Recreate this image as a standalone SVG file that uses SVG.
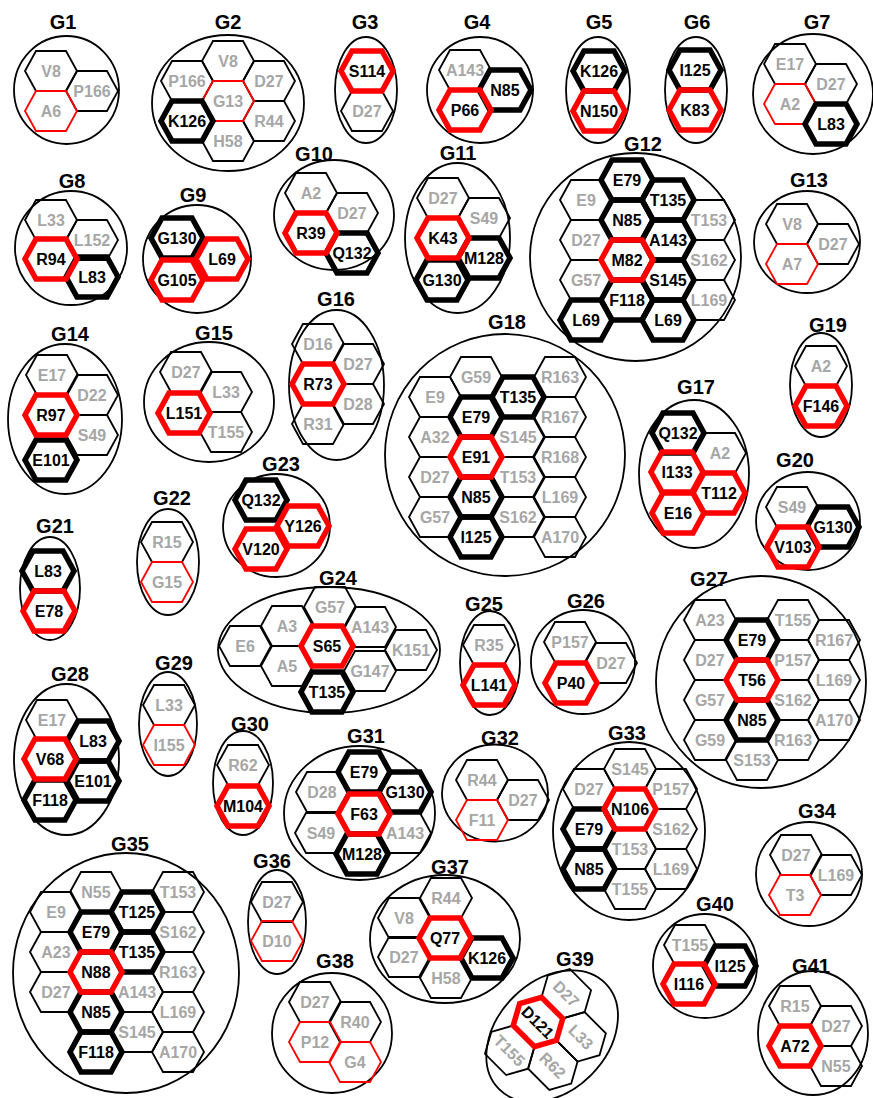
<svg xmlns="http://www.w3.org/2000/svg" width="873" height="1098" viewBox="0 0 873 1098">
<defs>
<path id="h" d="M-26,0L-15,-20H15L26,0L15,20H-15Z"/>
</defs>
<style>
text{font-family:"Liberation Sans",Arial,sans-serif;font-weight:bold;text-anchor:middle}
.t{font-size:20px;fill:#000}
.g{font-size:16px;fill:#a6a6a6}
.b{font-size:16px;fill:#000}
.e{fill:none;stroke:#000;stroke-width:1.8}
.n{fill:none;stroke:#000;stroke-width:1.8}
.r{fill:none;stroke:#f00;stroke-width:1.8}
.K{fill:none;stroke:#000;stroke-width:5.5}
.R{fill:none;stroke:#f00;stroke-width:5.5}
</style>
<rect width="873" height="1098" fill="#fff"/>

<g id="G1"><text class="t" x="63" y="29">G1</text><ellipse class="e" cx="66.5" cy="90" rx="52.5" ry="54"/>
<use href="#h" x="51" y="71" class="n"/><text class="g" x="51" y="77">V8</text>
<use href="#h" x="92" y="91" class="n"/><text class="g" x="92" y="97">P166</text>
<use href="#h" x="51" y="111" class="r"/><text class="g" x="51" y="117">A6</text></g>

<g id="G2"><text class="t" x="228" y="29">G2</text><ellipse class="e" cx="228" cy="103" rx="76" ry="68"/>
<use href="#h" x="228" y="61" class="n"/><text class="g" x="228" y="67">V8</text>
<use href="#h" x="187" y="81" class="n"/><text class="g" x="187" y="87">P166</text>
<use href="#h" x="269" y="81" class="n"/><text class="g" x="269" y="87">D27</text>
<use href="#h" x="269" y="121" class="n"/><text class="g" x="269" y="127">R44</text>
<use href="#h" x="228" y="141" class="n"/><text class="g" x="228" y="147">H58</text>
<use href="#h" x="228" y="101" class="r"/><text class="g" x="228" y="107">G13</text>
<use href="#h" x="187" y="121" class="K"/><text class="b" x="187" y="127">K126</text></g>

<g id="G3"><text class="t" x="365" y="29">G3</text><ellipse class="e" cx="366" cy="90" rx="31" ry="53"/>
<use href="#h" x="367" y="111" class="n"/><text class="g" x="367" y="117">D27</text>
<use href="#h" x="367" y="71" class="R"/><text class="b" x="367" y="77">S114</text></g>

<g id="G4"><text class="t" x="477" y="29">G4</text><ellipse class="e" cx="480" cy="90" rx="53" ry="53"/>
<use href="#h" x="465" y="70" class="n"/><text class="g" x="465" y="76">A143</text>
<use href="#h" x="505" y="90" class="K"/><text class="b" x="505" y="96">N85</text>
<use href="#h" x="465" y="110" class="R"/><text class="b" x="465" y="116">P66</text></g>

<g id="G5"><text class="t" x="599" y="29">G5</text><ellipse class="e" cx="598" cy="90" rx="32" ry="53"/>
<use href="#h" x="599" y="71" class="K"/><text class="b" x="599" y="77">K126</text>
<use href="#h" x="599" y="111" class="R"/><text class="b" x="599" y="117">N150</text></g>

<g id="G6"><text class="t" x="697" y="29">G6</text><ellipse class="e" cx="696" cy="90" rx="31" ry="53"/>
<use href="#h" x="695" y="70" class="K"/><text class="b" x="695" y="76">I125</text>
<use href="#h" x="695" y="110" class="R"/><text class="b" x="695" y="116">K83</text></g>

<g id="G7"><text class="t" x="817" y="29">G7</text><ellipse class="e" cx="813" cy="94" rx="60" ry="60"/>
<use href="#h" x="790" y="64" class="n"/><text class="g" x="790" y="70">E17</text>
<use href="#h" x="831" y="84" class="n"/><text class="g" x="831" y="90">D27</text>
<use href="#h" x="790" y="104" class="r"/><text class="g" x="790" y="110">A2</text>
<use href="#h" x="831" y="124" class="K"/><text class="b" x="831" y="130">L83</text></g>

<g id="G8"><text class="t" x="72" y="188">G8</text><ellipse class="e" cx="71" cy="248" rx="56" ry="57"/>
<use href="#h" x="51" y="220" class="n"/><text class="g" x="51" y="226">L33</text>
<use href="#h" x="92" y="240" class="n"/><text class="g" x="92" y="246">L152</text>
<use href="#h" x="92" y="277" class="K"/><text class="b" x="92" y="283">L83</text>
<use href="#h" x="51" y="259" class="R"/><text class="b" x="51" y="265">R94</text></g>

<g id="G9"><text class="t" x="193" y="202">G9</text><ellipse class="e" cx="197" cy="259" rx="54" ry="54"/>
<use href="#h" x="177" y="238" class="K"/><text class="b" x="177" y="244">G130</text>
<use href="#h" x="222" y="259" class="R"/><text class="b" x="222" y="265">L69</text>
<use href="#h" x="177" y="280" class="R"/><text class="b" x="177" y="286">G105</text></g>

<g id="G10"><text class="t" x="314" y="161">G10</text><ellipse class="e" cx="334" cy="215" rx="60" ry="55"/>
<use href="#h" x="311" y="193" class="n"/><text class="g" x="311" y="199">A2</text>
<use href="#h" x="352" y="213" class="n"/><text class="g" x="352" y="219">D27</text>
<use href="#h" x="352" y="253" class="K"/><text class="b" x="352" y="259">Q132</text>
<use href="#h" x="311" y="233" class="R"/><text class="b" x="311" y="239">R39</text></g>

<g id="G11"><text class="t" x="458" y="160">G11</text><ellipse class="e" cx="457.5" cy="238" rx="52.5" ry="75"/>
<use href="#h" x="443" y="198" class="n"/><text class="g" x="443" y="204">D27</text>
<use href="#h" x="484" y="218" class="n"/><text class="g" x="484" y="224">S49</text>
<use href="#h" x="484" y="258" class="K"/><text class="b" x="484" y="264">M128</text>
<use href="#h" x="442" y="280" class="K"/><text class="b" x="442" y="286">G130</text>
<use href="#h" x="443" y="238" class="R"/><text class="b" x="443" y="244">K43</text></g>

<g id="G12"><text class="t" x="643" y="151">G12</text><ellipse class="e" cx="635.5" cy="257" rx="105.5" ry="104"/>
<use href="#h" x="586" y="200" class="n"/><text class="g" x="586" y="206">E9</text>
<use href="#h" x="586" y="240" class="n"/><text class="g" x="586" y="246">D27</text>
<use href="#h" x="586" y="280" class="n"/><text class="g" x="586" y="286">G57</text>
<use href="#h" x="709" y="220" class="n"/><text class="g" x="709" y="226">T153</text>
<use href="#h" x="709" y="260" class="n"/><text class="g" x="709" y="266">S162</text>
<use href="#h" x="709" y="300" class="n"/><text class="g" x="709" y="306">L169</text>
<use href="#h" x="627" y="180" class="K"/><text class="b" x="627" y="186">E79</text>
<use href="#h" x="627" y="220" class="K"/><text class="b" x="627" y="226">N85</text>
<use href="#h" x="627" y="300" class="K"/><text class="b" x="627" y="306">F118</text>
<use href="#h" x="668" y="200" class="K"/><text class="b" x="668" y="206">T135</text>
<use href="#h" x="668" y="240" class="K"/><text class="b" x="668" y="246">A143</text>
<use href="#h" x="668" y="280" class="K"/><text class="b" x="668" y="286">S145</text>
<use href="#h" x="668" y="320" class="K"/><text class="b" x="668" y="326">L69</text>
<use href="#h" x="586" y="320" class="K"/><text class="b" x="586" y="326">L69</text>
<use href="#h" x="627" y="260" class="R"/><text class="b" x="627" y="266">M82</text></g>

<g id="G13"><text class="t" x="809" y="187">G13</text><ellipse class="e" cx="807" cy="242" rx="53" ry="51"/>
<use href="#h" x="792" y="224" class="n"/><text class="g" x="792" y="230">V8</text>
<use href="#h" x="833" y="244" class="n"/><text class="g" x="833" y="250">D27</text>
<use href="#h" x="792" y="264" class="r"/><text class="g" x="792" y="270">A7</text></g>

<g id="G14"><text class="t" x="70" y="341">G14</text><ellipse class="e" cx="65" cy="419" rx="57" ry="75"/>
<use href="#h" x="52" y="375" class="n"/><text class="g" x="52" y="381">E17</text>
<use href="#h" x="92" y="395" class="n"/><text class="g" x="92" y="401">D22</text>
<use href="#h" x="92" y="435" class="n"/><text class="g" x="92" y="441">S49</text>
<use href="#h" x="51" y="460" class="K"/><text class="b" x="51" y="466">E101</text>
<use href="#h" x="51" y="415" class="R"/><text class="b" x="51" y="421">R97</text></g>

<g id="G15"><text class="t" x="214" y="340">G15</text><ellipse class="e" cx="209" cy="402" rx="65" ry="60"/>
<use href="#h" x="186" y="372" class="n"/><text class="g" x="186" y="378">D27</text>
<use href="#h" x="226" y="392" class="n"/><text class="g" x="226" y="398">L33</text>
<use href="#h" x="226" y="432" class="n"/><text class="g" x="226" y="438">T155</text>
<use href="#h" x="184" y="413" class="R"/><text class="b" x="184" y="419">L151</text></g>

<g id="G16"><text class="t" x="336" y="306">G16</text><ellipse class="e" cx="336.5" cy="385" rx="47.5" ry="75"/>
<use href="#h" x="318" y="344" class="n"/><text class="g" x="318" y="350">D16</text>
<use href="#h" x="358" y="364" class="n"/><text class="g" x="358" y="370">D27</text>
<use href="#h" x="358" y="404" class="n"/><text class="g" x="358" y="410">D28</text>
<use href="#h" x="318" y="424" class="n"/><text class="g" x="318" y="430">R31</text>
<use href="#h" x="318" y="384" class="R"/><text class="b" x="318" y="390">R73</text></g>

<g id="G17"><text class="t" x="696" y="394">G17</text><ellipse class="e" cx="694" cy="474" rx="55" ry="74"/>
<use href="#h" x="720" y="453" class="n"/><text class="g" x="720" y="459">A2</text>
<use href="#h" x="678" y="433" class="K"/><text class="b" x="678" y="439">Q132</text>
<use href="#h" x="677" y="472" class="R"/><text class="b" x="677" y="478">I133</text>
<use href="#h" x="719" y="493" class="R"/><text class="b" x="719" y="499">T112</text>
<use href="#h" x="678" y="513" class="R"/><text class="b" x="678" y="519">E16</text></g>

<g id="G18"><text class="t" x="507" y="329">G18</text><ellipse class="e" cx="505" cy="455" rx="120" ry="121"/>
<use href="#h" x="435" y="397" class="n"/><text class="g" x="435" y="403">E9</text>
<use href="#h" x="435" y="437" class="n"/><text class="g" x="435" y="443">A32</text>
<use href="#h" x="435" y="477" class="n"/><text class="g" x="435" y="483">D27</text>
<use href="#h" x="435" y="517" class="n"/><text class="g" x="435" y="523">G57</text>
<use href="#h" x="476" y="377" class="n"/><text class="g" x="476" y="383">G59</text>
<use href="#h" x="518" y="437" class="n"/><text class="g" x="518" y="443">S145</text>
<use href="#h" x="518" y="477" class="n"/><text class="g" x="518" y="483">T153</text>
<use href="#h" x="518" y="517" class="n"/><text class="g" x="518" y="523">S162</text>
<use href="#h" x="560" y="377" class="n"/><text class="g" x="560" y="383">R163</text>
<use href="#h" x="560" y="417" class="n"/><text class="g" x="560" y="423">R167</text>
<use href="#h" x="560" y="457" class="n"/><text class="g" x="560" y="463">R168</text>
<use href="#h" x="560" y="497" class="n"/><text class="g" x="560" y="503">L169</text>
<use href="#h" x="560" y="537" class="n"/><text class="g" x="560" y="543">A170</text>
<use href="#h" x="476" y="417" class="K"/><text class="b" x="476" y="423">E79</text>
<use href="#h" x="476" y="497" class="K"/><text class="b" x="476" y="503">N85</text>
<use href="#h" x="476" y="537" class="K"/><text class="b" x="476" y="543">I125</text>
<use href="#h" x="518" y="397" class="K"/><text class="b" x="518" y="403">T135</text>
<use href="#h" x="476" y="457" class="R"/><text class="b" x="476" y="463">E91</text></g>

<g id="G19"><text class="t" x="828" y="332">G19</text><ellipse class="e" cx="821" cy="385" rx="31" ry="52"/>
<use href="#h" x="821" y="366" class="n"/><text class="g" x="821" y="372">A2</text>
<use href="#h" x="821" y="406" class="R"/><text class="b" x="821" y="412">F146</text></g>

<g id="G20"><text class="t" x="795" y="467">G20</text><ellipse class="e" cx="808" cy="521" rx="52" ry="49"/>
<use href="#h" x="792" y="507" class="n"/><text class="g" x="792" y="513">S49</text>
<use href="#h" x="833" y="527" class="K"/><text class="b" x="833" y="533">G130</text>
<use href="#h" x="793" y="547" class="R"/><text class="b" x="793" y="553">V103</text></g>

<g id="G21"><text class="t" x="55" y="533">G21</text><ellipse class="e" cx="50" cy="588.5" rx="30" ry="51.5"/>
<use href="#h" x="48" y="571" class="K"/><text class="b" x="48" y="577">L83</text>
<use href="#h" x="49" y="611" class="R"/><text class="b" x="49" y="617">E78</text></g>

<g id="G22"><text class="t" x="172" y="505">G22</text><ellipse class="e" cx="168" cy="562" rx="31" ry="53"/>
<use href="#h" x="167" y="542" class="n"/><text class="g" x="167" y="548">R15</text>
<use href="#h" x="167" y="582" class="r"/><text class="g" x="167" y="588">G15</text></g>

<g id="G23"><text class="t" x="281" y="471">G23</text><ellipse class="e" cx="276.5" cy="525.5" rx="53.5" ry="51.5"/>
<use href="#h" x="261" y="500" class="K"/><text class="b" x="261" y="506">Q132</text>
<use href="#h" x="303" y="526" class="R"/><text class="b" x="303" y="532">Y126</text>
<use href="#h" x="261" y="549" class="R"/><text class="b" x="261" y="555">V120</text></g>

<g id="G24"><text class="t" x="338" y="585">G24</text><ellipse class="e" cx="329" cy="650" rx="111" ry="63"/>
<use href="#h" x="245" y="646" class="n"/><text class="g" x="245" y="652">E6</text>
<use href="#h" x="287" y="626" class="n"/><text class="g" x="287" y="632">A3</text>
<use href="#h" x="287" y="666" class="n"/><text class="g" x="287" y="672">A5</text>
<use href="#h" x="330" y="607" class="n"/><text class="g" x="330" y="613">G57</text>
<use href="#h" x="370" y="627" class="n"/><text class="g" x="370" y="633">A143</text>
<use href="#h" x="370" y="671" class="n"/><text class="g" x="370" y="677">G147</text>
<use href="#h" x="411" y="650" class="n"/><text class="g" x="411" y="656">K151</text>
<use href="#h" x="327" y="692" class="K"/><text class="b" x="327" y="698">T135</text>
<use href="#h" x="327" y="646" class="R"/><text class="b" x="327" y="652">S65</text></g>

<g id="G25"><text class="t" x="484" y="611">G25</text><ellipse class="e" cx="490" cy="663" rx="30" ry="52"/>
<use href="#h" x="489" y="645" class="n"/><text class="g" x="489" y="651">R35</text>
<use href="#h" x="489" y="685" class="R"/><text class="b" x="489" y="691">L141</text></g>

<g id="G26"><text class="t" x="586" y="608">G26</text><ellipse class="e" cx="583" cy="662" rx="52" ry="52"/>
<use href="#h" x="570" y="642" class="n"/><text class="g" x="570" y="648">P157</text>
<use href="#h" x="611" y="663" class="n"/><text class="g" x="611" y="669">D27</text>
<use href="#h" x="571" y="683" class="R"/><text class="b" x="571" y="689">P40</text></g>

<g id="G27"><text class="t" x="709" y="586">G27</text><ellipse class="e" cx="761" cy="682" rx="105" ry="106"/>
<use href="#h" x="710" y="620" class="n"/><text class="g" x="710" y="626">A23</text>
<use href="#h" x="710" y="660" class="n"/><text class="g" x="710" y="666">D27</text>
<use href="#h" x="710" y="700" class="n"/><text class="g" x="710" y="706">G57</text>
<use href="#h" x="710" y="740" class="n"/><text class="g" x="710" y="746">G59</text>
<use href="#h" x="752" y="760" class="n"/><text class="g" x="752" y="766">S153</text>
<use href="#h" x="793" y="620" class="n"/><text class="g" x="793" y="626">T155</text>
<use href="#h" x="793" y="660" class="n"/><text class="g" x="793" y="666">P157</text>
<use href="#h" x="793" y="700" class="n"/><text class="g" x="793" y="706">S162</text>
<use href="#h" x="793" y="740" class="n"/><text class="g" x="793" y="746">R163</text>
<use href="#h" x="834" y="640" class="n"/><text class="g" x="834" y="646">R167</text>
<use href="#h" x="834" y="680" class="n"/><text class="g" x="834" y="686">L169</text>
<use href="#h" x="834" y="720" class="n"/><text class="g" x="834" y="726">A170</text>
<use href="#h" x="752" y="640" class="K"/><text class="b" x="752" y="646">E79</text>
<use href="#h" x="752" y="720" class="K"/><text class="b" x="752" y="726">N85</text>
<use href="#h" x="752" y="680" class="R"/><text class="b" x="752" y="686">T56</text></g>

<g id="G28"><text class="t" x="70" y="681">G28</text><ellipse class="e" cx="66.5" cy="759.5" rx="52.5" ry="75.5"/>
<use href="#h" x="52" y="720" class="n"/><text class="g" x="52" y="726">E17</text>
<use href="#h" x="93" y="741" class="K"/><text class="b" x="93" y="747">L83</text>
<use href="#h" x="93" y="781" class="K"/><text class="b" x="93" y="787">E101</text>
<use href="#h" x="50" y="800" class="K"/><text class="b" x="50" y="806">F118</text>
<use href="#h" x="50" y="759" class="R"/><text class="b" x="50" y="765">V68</text></g>

<g id="G29"><text class="t" x="174" y="670">G29</text><ellipse class="e" cx="168" cy="724" rx="29" ry="52"/>
<use href="#h" x="169" y="705" class="n"/><text class="g" x="169" y="711">L33</text>
<use href="#h" x="169" y="745" class="r"/><text class="g" x="169" y="751">I155</text></g>

<g id="G30"><text class="t" x="250" y="731">G30</text><ellipse class="e" cx="243" cy="783" rx="30" ry="52"/>
<use href="#h" x="243" y="765" class="n"/><text class="g" x="243" y="771">R62</text>
<use href="#h" x="243" y="806" class="R"/><text class="b" x="243" y="812">M104</text></g>

<g id="G31"><text class="t" x="366" y="743">G31</text><ellipse class="e" cx="359.5" cy="813" rx="75.5" ry="67"/>
<use href="#h" x="322" y="792" class="n"/><text class="g" x="322" y="798">D28</text>
<use href="#h" x="321" y="833" class="n"/><text class="g" x="321" y="839">S49</text>
<use href="#h" x="405" y="833" class="n"/><text class="g" x="405" y="839">A143</text>
<use href="#h" x="364" y="772" class="K"/><text class="b" x="364" y="778">E79</text>
<use href="#h" x="405" y="792" class="K"/><text class="b" x="405" y="798">G130</text>
<use href="#h" x="362" y="854" class="K"/><text class="b" x="362" y="860">M128</text>
<use href="#h" x="364" y="814" class="R"/><text class="b" x="364" y="820">F63</text></g>

<g id="G32"><text class="t" x="500" y="745">G32</text><ellipse class="e" cx="495" cy="793" rx="53" ry="48.5"/>
<use href="#h" x="482" y="780" class="n"/><text class="g" x="482" y="786">R44</text>
<use href="#h" x="523" y="800" class="n"/><text class="g" x="523" y="806">D27</text>
<use href="#h" x="482" y="820" class="r"/><text class="g" x="482" y="826">F11</text></g>

<g id="G33"><text class="t" x="627" y="740">G33</text><ellipse class="e" cx="629" cy="831" rx="76" ry="89"/>
<use href="#h" x="589" y="789" class="n"/><text class="g" x="589" y="795">D27</text>
<use href="#h" x="630" y="769" class="n"/><text class="g" x="630" y="775">S145</text>
<use href="#h" x="630" y="849" class="n"/><text class="g" x="630" y="855">T153</text>
<use href="#h" x="630" y="889" class="n"/><text class="g" x="630" y="895">T155</text>
<use href="#h" x="671" y="789" class="n"/><text class="g" x="671" y="795">P157</text>
<use href="#h" x="671" y="829" class="n"/><text class="g" x="671" y="835">S162</text>
<use href="#h" x="671" y="869" class="n"/><text class="g" x="671" y="875">L169</text>
<use href="#h" x="589" y="829" class="K"/><text class="b" x="589" y="835">E79</text>
<use href="#h" x="589" y="869" class="K"/><text class="b" x="589" y="875">N85</text>
<use href="#h" x="630" y="809" class="R"/><text class="b" x="630" y="815">N106</text></g>

<g id="G34"><text class="t" x="817" y="818">G34</text><ellipse class="e" cx="809" cy="874" rx="53" ry="52"/>
<use href="#h" x="796" y="855" class="n"/><text class="g" x="796" y="861">D27</text>
<use href="#h" x="836" y="875" class="n"/><text class="g" x="836" y="881">L169</text>
<use href="#h" x="795" y="895" class="r"/><text class="g" x="795" y="901">T3</text></g>

<g id="G35"><text class="t" x="130" y="851">G35</text><ellipse class="e" cx="126" cy="973" rx="113" ry="120"/>
<use href="#h" x="56" y="912" class="n"/><text class="g" x="56" y="918">E9</text>
<use href="#h" x="56" y="952" class="n"/><text class="g" x="56" y="958">A23</text>
<use href="#h" x="56" y="992" class="n"/><text class="g" x="56" y="998">D27</text>
<use href="#h" x="96" y="892" class="n"/><text class="g" x="96" y="898">N55</text>
<use href="#h" x="137" y="992" class="n"/><text class="g" x="137" y="998">A143</text>
<use href="#h" x="137" y="1032" class="n"/><text class="g" x="137" y="1038">S145</text>
<use href="#h" x="178" y="892" class="n"/><text class="g" x="178" y="898">T153</text>
<use href="#h" x="178" y="932" class="n"/><text class="g" x="178" y="938">S162</text>
<use href="#h" x="178" y="972" class="n"/><text class="g" x="178" y="978">R163</text>
<use href="#h" x="178" y="1012" class="n"/><text class="g" x="178" y="1018">L169</text>
<use href="#h" x="178" y="1052" class="n"/><text class="g" x="178" y="1058">A170</text>
<use href="#h" x="96" y="932" class="K"/><text class="b" x="96" y="938">E79</text>
<use href="#h" x="96" y="1012" class="K"/><text class="b" x="96" y="1018">N85</text>
<use href="#h" x="96" y="1052" class="K"/><text class="b" x="96" y="1058">F118</text>
<use href="#h" x="137" y="912" class="K"/><text class="b" x="137" y="918">T125</text>
<use href="#h" x="137" y="952" class="K"/><text class="b" x="137" y="958">T135</text>
<use href="#h" x="96" y="972" class="R"/><text class="b" x="96" y="978">N88</text></g>

<g id="G36"><text class="t" x="272" y="868">G36</text><ellipse class="e" cx="277" cy="922" rx="29" ry="52"/>
<use href="#h" x="277" y="902" class="n"/><text class="g" x="277" y="908">D27</text>
<use href="#h" x="277" y="941" class="r"/><text class="g" x="277" y="947">D10</text></g>

<g id="G37"><text class="t" x="450" y="874">G37</text><ellipse class="e" cx="445" cy="939" rx="75" ry="64"/>
<use href="#h" x="446" y="898" class="n"/><text class="g" x="446" y="904">R44</text>
<use href="#h" x="404" y="918" class="n"/><text class="g" x="404" y="924">V8</text>
<use href="#h" x="404" y="957" class="n"/><text class="g" x="404" y="963">D27</text>
<use href="#h" x="446" y="978" class="n"/><text class="g" x="446" y="984">H58</text>
<use href="#h" x="487" y="958" class="K"/><text class="b" x="487" y="964">K126</text>
<use href="#h" x="445" y="938" class="R"/><text class="b" x="445" y="944">Q77</text></g>

<g id="G38"><text class="t" x="335" y="968">G38</text><ellipse class="e" cx="332" cy="1033" rx="60" ry="60"/>
<use href="#h" x="315" y="1002" class="n"/><text class="g" x="315" y="1008">D27</text>
<use href="#h" x="355" y="1022" class="n"/><text class="g" x="355" y="1028">R40</text>
<use href="#h" x="315" y="1042" class="r"/><text class="g" x="315" y="1048">P12</text>
<use href="#h" x="355" y="1062" class="r"/><text class="g" x="355" y="1068">G4</text></g>

<g id="G39"><text class="t" x="575" y="966">G39</text>
<g transform="translate(538,1022) rotate(45)">
<ellipse class="e" cx="20" cy="0" rx="55" ry="75"/>
<use href="#h" x="0" y="-40" class="n"/><text class="g" x="0" y="-34">D27</text>
<use href="#h" x="0" y="40" class="n"/><text class="g" x="0" y="46">T155</text>
<use href="#h" x="41" y="-20" class="n"/><text class="g" x="41" y="-14">L33</text>
<use href="#h" x="41" y="20" class="n"/><text class="g" x="41" y="26">R62</text>
<use href="#h" x="0" y="0" class="R"/><text class="b" x="0" y="6">D121</text>
</g></g>

<g id="G40"><text class="t" x="715" y="911">G40</text><ellipse class="e" cx="705" cy="966" rx="52" ry="52"/>
<use href="#h" x="690" y="945" class="n"/><text class="g" x="690" y="951">T155</text>
<use href="#h" x="730" y="966" class="K"/><text class="b" x="730" y="972">I125</text>
<use href="#h" x="689" y="984" class="R"/><text class="b" x="689" y="990">I116</text></g>

<g id="G41"><text class="t" x="811" y="973">G41</text><ellipse class="e" cx="813" cy="1033" rx="55" ry="62"/>
<use href="#h" x="795" y="1006" class="n"/><text class="g" x="795" y="1012">R15</text>
<use href="#h" x="836" y="1026" class="n"/><text class="g" x="836" y="1032">D27</text>
<use href="#h" x="836" y="1066" class="n"/><text class="g" x="836" y="1072">N55</text>
<use href="#h" x="795" y="1046" class="R"/><text class="b" x="795" y="1052">A72</text></g>
</svg>
